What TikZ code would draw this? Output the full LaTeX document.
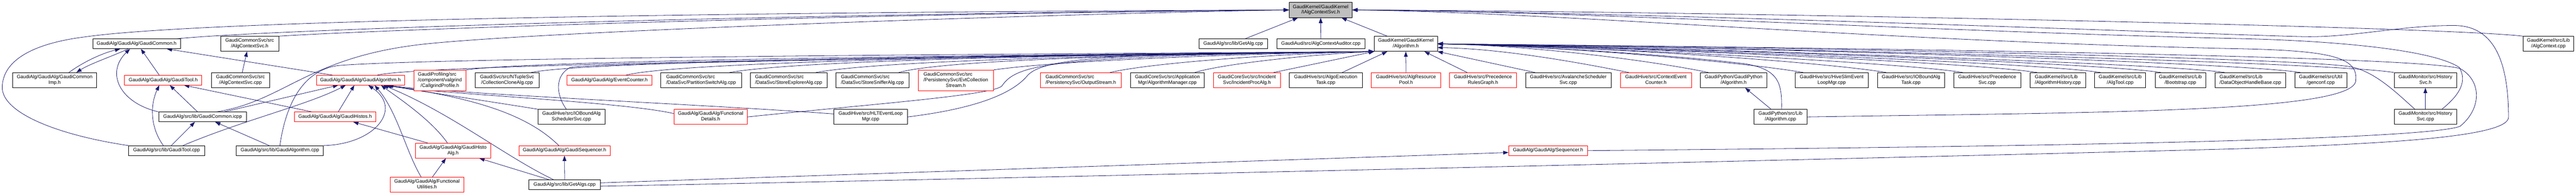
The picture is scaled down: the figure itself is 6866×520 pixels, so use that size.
\documentclass[tikz,border=0pt]{standalone}
\usepackage{fontspec}
\setmainfont{Liberation Sans}
\usetikzlibrary{arrows.meta}
\definecolor{edgeblue}{HTML}{191970}
\definecolor{nodegray}{HTML}{BFBFBF}
\newcommand\nfont{\fontsize{13bp}{15bp}\selectfont}
\newcommand\NLone[1]{\begin{tabular}{@{}c@{}}#1\end{tabular}}
\newcommand\NLtwo[2]{\begin{tabular}{@{}l@{}}#1\\\multicolumn{1}{@{}c@{}}{#2}\end{tabular}}
\newcommand\NLthree[3]{\begin{tabular}{@{}l@{}}#1\\#2\\\multicolumn{1}{@{}c@{}}{#3}\end{tabular}}
\pgfdeclarelayer{back}
\pgfdeclarelayer{edges}
\pgfsetlayers{back,edges,main}
\tikzset{
  wbox/.style={draw=black, fill=white, line width=1bp, inner sep=0pt, font=\nfont, text=black},
  rbox/.style={wbox, draw=red},
  gbox/.style={wbox, fill=nodegray},
  incl/.style={draw=edgeblue, line width=1.1bp, -{Triangle[length=14bp,width=10bp]}},
}
\begin{document}
\begin{tikzpicture}[x=1bp,y=-1bp]
\begin{pgfonlayer}{back}
\fill[white] (0,0) rectangle (6866,520);
\end{pgfonlayer}
\useasboundingbox (0,0) rectangle (6866,520);

% ---- nodes ----
\node[gbox, minimum width=168bp, minimum height=41bp] (G) at (3520,26.5) {\NLtwo{GaudiKernel/GaudiKernel}{/IAlgContextSvc.h}};
\node[wbox, minimum width=234bp, minimum height=26bp] (gcomm) at (364,117) {\NLone{GaudiAlg/GaudiAlg/GaudiCommon.h}};
\node[wbox, minimum width=155bp, minimum height=40bp] (acsh) at (665.5,117) {\NLtwo{GaudiCommonSvc/src}{/AlgContextSvc.h}};
\node[wbox, minimum width=223bp, minimum height=40bp] (gcimp) at (145.5,214) {\NLtwo{GaudiAlg/GaudiAlg/GaudiCommon}{Imp.h}};
\node[rbox, minimum width=206bp, minimum height=26bp] (gtoolh) at (435,214) {\NLone{GaudiAlg/GaudiAlg/GaudiTool.h}};
\node[wbox, minimum width=154bp, minimum height=40bp] (acscpp) at (641,214) {\NLtwo{GaudiCommonSvc/src}{/AlgContextSvc.cpp}};
\node[rbox, minimum width=235bp, minimum height=26bp] (galgh) at (960.5,214) {\NLone{GaudiAlg/GaudiAlg/GaudiAlgorithm.h}};
\node[wbox, minimum width=234bp, minimum height=26bp] (gicpp) at (540,312) {\NLone{GaudiAlg/src/lib/GaudiCommon.icpp}};
\node[rbox, minimum width=218bp, minimum height=26bp] (ghistos) at (893,312) {\NLone{GaudiAlg/GaudiAlg/GaudiHistos.h}};
\node[wbox, minimum width=202bp, minimum height=26bp] (gtoolcpp) at (444,402) {\NLone{GaudiAlg/src/lib/GaudiTool.cpp}};
\node[wbox, minimum width=232bp, minimum height=26bp] (galgcpp) at (746,402) {\NLone{GaudiAlg/src/lib/GaudiAlgorithm.cpp}};
\node[rbox, minimum width=139bp, minimum height=55bp] (callgrind) at (1172.5,214.5) {\NLthree{GaudiProfiling/src}{/component/valgrind}{/CallgrindProfile.h}};
\node[wbox, minimum width=171bp, minimum height=40bp] (collclone) at (1351.5,214) {\NLtwo{GaudiSvc/src/NTupleSvc}{/CollectionCloneAlg.cpp}};
\node[rbox, minimum width=227bp, minimum height=26bp] (evcounter) at (1624.5,214) {\NLone{GaudiAlg/GaudiAlg/EventCounter.h}};
\node[wbox, minimum width=178bp, minimum height=40bp] (ioboundsched) at (1523,312) {\NLtwo{GaudiHive/src/IOBoundAlg}{SchedulerSvc.cpp}};
\node[rbox, minimum width=201bp, minimum height=40bp] (ghistoalg) at (1207.5,402) {\NLtwo{GaudiAlg/GaudiAlg/GaudiHisto}{Alg.h}};
\node[rbox, minimum width=243bp, minimum height=26bp] (gseq) at (1504.5,402) {\NLone{GaudiAlg/GaudiAlg/GaudiSequencer.h}};
\node[rbox, minimum width=196bp, minimum height=40bp] (funcutil) at (1138,493) {\NLtwo{GaudiAlg/GaudiAlg/Functional}{Utilities.h}};
\node[wbox, minimum width=190bp, minimum height=26bp] (getalgs) at (1505,493) {\NLone{GaudiAlg/src/lib/GetAlgs.cpp}};
\node[wbox, minimum width=215bp, minimum height=40bp] (partsw) at (1868.5,214) {\NLtwo{GaudiCommonSvc/src}{/DataSvc/PartitionSwitchAlg.cpp}};
\node[wbox, minimum width=204bp, minimum height=40bp] (storeexp) at (2102,214) {\NLtwo{GaudiCommonSvc/src}{/DataSvc/StoreExplorerAlg.cpp}};
\node[wbox, minimum width=195bp, minimum height=40bp] (storesniff) at (2325.5,214) {\NLtwo{GaudiCommonSvc/src}{/DataSvc/StoreSnifferAlg.cpp}};
\node[rbox, minimum width=201bp, minimum height=55bp] (evtcoll) at (2547.5,214.5) {\NLthree{GaudiCommonSvc/src}{/PersistencySvc/EvtCollection}{Stream.h}};
\node[rbox, minimum width=196bp, minimum height=40bp] (funcdet) at (1894,312) {\NLtwo{GaudiAlg/GaudiAlg/Functional}{Details.h}};
\node[wbox, minimum width=197bp, minimum height=40bp] (hltevt) at (2320.5,312) {\NLtwo{GaudiHive/src/HLTEventLoop}{Mgr.cpp}};
\node[rbox, minimum width=215bp, minimum height=40bp] (outstream) at (2880.5,214) {\NLtwo{GaudiCommonSvc/src}{/PersistencySvc/OutputStream.h}};
\node[wbox, minimum width=197bp, minimum height=40bp] (algmgr) at (3111.5,214) {\NLtwo{GaudiCoreSvc/src/Application}{Mgr/AlgorithmManager.cpp}};
\node[rbox, minimum width=179bp, minimum height=40bp] (incproc) at (3323.5,214) {\NLtwo{GaudiCoreSvc/src/Incident}{Svc/IncidentProcAlg.h}};
\node[wbox, minimum width=182bp, minimum height=26bp] (getalg) at (3287,117) {\NLone{GaudiAlg/src/lib/GetAlg.cpp}};
\node[wbox, minimum width=235bp, minimum height=26bp] (acaud) at (3520.5,117) {\NLone{GaudiAud/src/AlgContextAuditor.cpp}};
\node[wbox, minimum width=168bp, minimum height=40bp] (algh) at (3747,117) {\NLtwo{GaudiKernel/GaudiKernel}{/Algorithm.h}};
\node[wbox, minimum width=195bp, minimum height=40bp] (algoexec) at (3533.5,214) {\NLtwo{GaudiHive/src/AlgoExecution}{Task.cpp}};
\node[rbox, minimum width=185bp, minimum height=40bp] (algres) at (3747.5,214) {\NLtwo{GaudiHive/src/AlgResource}{Pool.h}};
\node[rbox, minimum width=179bp, minimum height=40bp] (precgraph) at (3952.5,214) {\NLtwo{GaudiHive/src/Precedence}{RulesGraph.h}};
\node[wbox, minimum width=228bp, minimum height=40bp] (avalanche) at (4180,214) {\NLtwo{GaudiHive/src/AvalancheScheduler}{Svc.cpp}};
\node[rbox, minimum width=210bp, minimum height=26bp] (seqh) at (4126,402) {\NLone{GaudiAlg/GaudiAlg/Sequencer.h}};
\node[rbox, minimum width=189bp, minimum height=40bp] (ctxevc) at (4413.5,214) {\NLtwo{GaudiHive/src/ContextEvent}{Counter.h}};
\node[wbox, minimum width=177bp, minimum height=40bp] (gpyalgh) at (4620.5,214) {\NLtwo{GaudiPython/GaudiPython}{/Algorithm.h}};
\node[wbox, minimum width=196bp, minimum height=40bp] (hiveslim) at (4882,214) {\NLtwo{GaudiHive/src/HiveSlimEvent}{LoopMgr.cpp}};
\node[wbox, minimum width=179bp, minimum height=40bp] (ioboundtask) at (5093.5,214) {\NLtwo{GaudiHive/src/IOBoundAlg}{Task.cpp}};
\node[wbox, minimum width=141bp, minimum height=40bp] (gpyalgcpp) at (4745.5,312) {\NLtwo{GaudiPython/src/Lib}{/Algorithm.cpp}};
\node[wbox, minimum width=179bp, minimum height=40bp] (precsvc) at (5296.5,214) {\NLtwo{GaudiHive/src/Precedence}{Svc.cpp}};
\node[wbox, minimum width=148bp, minimum height=40bp] (alghist) at (5485,214) {\NLtwo{GaudiKernel/src/Lib}{/AlgorithmHistory.cpp}};
\node[wbox, minimum width=136bp, minimum height=40bp] (algtool) at (5651,214) {\NLtwo{GaudiKernel/src/Lib}{/AlgTool.cpp}};
\node[wbox, minimum width=135bp, minimum height=40bp] (bootstrap) at (5811.5,214) {\NLtwo{GaudiKernel/src/Lib}{/Bootstrap.cpp}};
\node[wbox, minimum width=188bp, minimum height=40bp] (dohb) at (5998,214) {\NLtwo{GaudiKernel/src/Lib}{/DataObjectHandleBase.cpp}};
\node[wbox, minimum width=139bp, minimum height=40bp] (genconf) at (6185.5,214) {\NLtwo{GaudiKernel/src/Util}{/genconf.cpp}};
\node[wbox, minimum width=167bp, minimum height=40bp] (histsvch) at (6464.5,214) {\NLtwo{GaudiMonitor/src/History}{Svc.h}};
\node[wbox, minimum width=167bp, minimum height=40bp] (histsvccpp) at (6464.5,312) {\NLtwo{GaudiMonitor/src/History}{Svc.cpp}};
\node[wbox, minimum width=135bp, minimum height=40bp] (algctx) at (6792.5,117) {\NLtwo{GaudiKernel/src/Lib}{/AlgContext.cpp}};

% ---- edges ----
\begin{pgfonlayer}{edges}
% into GaudiCommon.h
\draw[incl] ([xshift=150bp]gcimp.north west) .. controls (230,160) and (280,140) .. ([xshift=74bp]gcomm.south west);
\draw[incl] ([xshift=95bp]gcomm.south west) .. controls (300,150) and (240,170) .. ([xshift=170bp]gcimp.north west);
\draw[incl] (gicpp.north west) .. controls (320,275) and (280,195) .. ([xshift=100bp]gcomm.south west);
\draw[incl] ([xshift=93bp]gtoolh.north west) -- ([xshift=129bp]gcomm.south west);
\draw[incl] ([xshift=44bp]galgh.north west) -- ([xshift=198bp]gcomm.south west);
\draw[incl] ([xshift=82bp]acscpp.north west) -- ([xshift=71bp]acsh.south west);
% into GaudiTool.h
\draw[incl] ([xshift=93bp]gtoolcpp.north west) .. controls (400,340) and (400,280) .. ([xshift=93bp]gtoolh.south west);
\draw[incl] ([xshift=104bp]gicpp.north west) -- ([xshift=121bp]gtoolh.south west);
\draw[incl] ([xshift=48bp]ghistos.north west) -- ([xshift=159bp]gtoolh.south west);
% into GaudiCommon.icpp
\draw[incl] ([xshift=114bp]gtoolcpp.north west) -- ([xshift=97bp]gicpp.south west);
\draw[incl] ([xshift=88bp]galgcpp.north west) -- ([xshift=151bp]gicpp.south west);
% into IAlgContextSvc.h from the left
\draw[incl] (gtoolcpp.north west) .. controls (150,360) and (5,300) .. (6,233) .. controls (7,160) and (90,115) .. (230,98) .. controls (500,60) and (1600,34) .. (G.west);
\draw[incl] ([xshift=-11bp]gcomm.north east) .. controls (700,80) and (2000,38) .. (G.west);
\draw[incl] (acsh.north east) .. controls (1000,80) and (2200,38) .. (G.west);
\draw[incl] ([xshift=37bp]gicpp.north) .. controls (760,270) and (820,150) .. (1137,117) .. controls (1500,80) and (2900,35) .. (G.west);
% into GaudiAlgorithm.h
\draw[incl] ([xshift=57bp]gicpp.north) -- ([xshift=59bp]galgh.south west);
\draw[incl] ([xshift=145bp]gtoolcpp.north west) .. controls (650,320) and (820,280) .. ([xshift=79bp]galgh.south west);
\draw[incl] (galgcpp.north east) .. controls (1000,385) and (1075,290) .. ([xshift=139bp]galgh.south west);
\draw[incl] ([xshift=118bp]ghistos.north west) -- ([xshift=102bp]galgh.south west);
\draw[incl] ([xshift=83bp]funcutil.north west) .. controls (1080,400) and (1060,300) .. ([xshift=156bp]galgh.south west);
\draw[incl] ([xshift=86bp]ghistoalg.north west) .. controls (1150,320) and (1060,260) .. ([xshift=173bp]galgh.south west);
\draw[incl] ([xshift=66bp]getalgs.north west) .. controls (1350,420) and (1200,300) .. ([xshift=179bp]galgh.south west);
\draw[incl] ([xshift=107bp]gseq.north west) .. controls (1400,300) and (1250,260) .. ([xshift=185bp]galgh.south west);
\draw[incl] (ioboundsched.north west) .. controls (1300,270) and (1100,240) .. ([xshift=187bp]galgh.south west);
\draw[incl] ([yshift=9bp]funcdet.west) .. controls (1650,270) and (1150,250) .. ([xshift=190bp]galgh.south west);
\draw[incl] ([yshift=8bp]hltevt.west) .. controls (1900,280) and (1200,250) .. ([xshift=192bp]galgh.south west);
% into GaudiHistos.h, GaudiHistoAlg.h, GaudiSequencer.h, Sequencer.h
\draw[incl] ([xshift=33bp]ghistoalg.north west) -- ([xshift=158bp]ghistos.south west);
\draw[incl] ([xshift=113bp]funcutil.north west) -- ([xshift=82bp]ghistoalg.south west);
\draw[incl] ([xshift=54bp]getalgs.north west) -- ([xshift=171bp]ghistoalg.south west);
\draw[incl] (getalgs.north) -- (gseq.south);
\draw[incl] ([yshift=5bp]getalgs.east) -- ([yshift=-5bp]seqh.west);
% long loops on the right
\draw[incl] ([yshift=-4bp]getalgs.east) .. controls (3000,470) and (5500,410) .. (5966,397) .. controls (6300,385) and (6686,370) .. (6686,313) .. controls (6686,150) and (6640,68) .. (6540,68) .. controls (6400,68) and (6280,98) .. (6155,98) .. controls (6050,98) and (4500,35) .. (G.east);
\draw[incl] (seqh.east) .. controls (5000,395) and (6450,380) .. (6557,337) .. controls (6615,290) and (6615,215) .. (6557,183) .. controls (6450,150) and (5000,128) .. (algh.east);
\draw[incl] (gpyalgcpp.east) .. controls (5600,300) and (6285,300) .. (6279,213) .. controls (6285,150) and (6200,135) .. (5966,130) .. controls (5000,110) and (4200,35) .. (G.east);
\draw[incl] ([xshift=-40bp]histsvccpp.north east) .. controls (6560,250) and (6575,215) .. (6555,180) .. controls (6480,130) and (6200,108) .. (5966,103) .. controls (5200,85) and (4200,30) .. (G.east);
\draw[incl] ([xshift=56bp]histsvccpp.north west) .. controls (6390,250) and (6330,190) .. (6264,178) .. controls (6150,158) and (5000,128) .. (algh.east);
\draw[incl] (histsvccpp.north) -- (histsvch.south);
\draw[incl] (histsvch.north west) .. controls (6250,170) and (5000,132) .. (algh.east);
\draw[incl] ([xshift=16bp]genconf.north west) .. controls (6000,172) and (5000,132) .. (algh.east);
\draw[incl] (algctx.north west) .. controls (6500,70) and (4500,30) .. (G.east);
% into Algorithm.h from the right
\draw[incl] ([xshift=26bp]dohb.north west) .. controls (5760,168) and (4500,128) .. (algh.east);
\draw[incl] ([xshift=16bp]bootstrap.north west) .. controls (5600,168) and (4500,128) .. (algh.east);
\draw[incl] ([xshift=16bp]algtool.north west) .. controls (5440,168) and (4400,128) .. (algh.east);
\draw[incl] ([xshift=19bp]alghist.north west) .. controls (5270,168) and (4400,128) .. (algh.east);
\draw[incl] ([xshift=25bp]precsvc.north west) .. controls (5080,168) and (4300,128) .. (algh.east);
\draw[incl] ([xshift=24bp]ioboundtask.north west) .. controls (4880,168) and (4300,125) .. (algh.east);
\draw[incl] ([xshift=23bp]hiveslim.north west) .. controls (4660,168) and (4200,125) .. (algh.east);
\draw[incl] ([xshift=22bp]gpyalgh.north west) .. controls (4420,165) and (4100,122) .. (algh.east);
\draw[incl] ([xshift=23bp]ctxevc.north west) .. controls (4200,165) and (4000,130) .. ([yshift=-10bp]algh.east);
\draw[incl] ([xshift=26bp]avalanche.north west) -- (algh.south east);
\draw[incl] ([xshift=74bp]gpyalgcpp.north west) .. controls (4750,220) and (4740,185) .. (4650,170) .. controls (4400,140) and (4000,120) .. (algh.east);
\draw[incl] ([xshift=46bp]gpyalgcpp.north west) -- ([xshift=120bp]gpyalgh.south west);
% into Algorithm.h from below
\draw[incl] ([xshift=142bp]algoexec.north west) -- ([xshift=35bp]algh.south west);
\draw[incl] (algres.north) -- (algh.south);
\draw[incl] ([xshift=48bp]precgraph.north west) -- ([xshift=-35bp]algh.south east);
% into IAlgContextSvc.h from below
\draw[incl] ([xshift=35bp]algh.north west) -- ([xshift=-29bp]G.south east);
\draw[incl] (acaud.north) -- (G.south);
\draw[incl] ([xshift=123bp]getalg.north west) -- ([xshift=24bp]G.south west);
% into Algorithm.h from the left
\draw[incl] ([xshift=-19bp]incproc.north east) -- (algh.south west);
\draw[incl] ([xshift=-26bp]algmgr.north east) .. controls (3260,170) and (3500,145) .. (algh.south west);
\draw[incl] ([xshift=-30bp]outstream.north east) .. controls (3080,165) and (3450,142) .. (algh.south west);
\draw[incl] (evtcoll.north east) .. controls (2850,158) and (3400,142) .. (algh.south west);
\draw[incl] ([xshift=-28bp]storesniff.north east) .. controls (2550,150) and (3400,142) .. (algh.south west);
\draw[incl] ([xshift=-30bp]storeexp.north east) .. controls (2400,152) and (3400,142) .. (algh.south west);
\draw[incl] ([xshift=-32bp]partsw.north east) .. controls (2190,150) and (3400,142) .. (algh.south west);
\draw[incl] ([xshift=-70bp]evcounter.north east) .. controls (1850,155) and (3300,142) .. (algh.south west);
\draw[incl] ([xshift=-22bp]collclone.north east) .. controls (1600,155) and (3300,142) .. (algh.south west);
\draw[incl] (callgrind.north east) .. controls (1450,155) and (3300,142) .. (algh.south west);
\draw[incl] ([xshift=-73bp]galgh.north east) .. controls (1150,165) and (3300,142) .. (algh.south west);
\draw[incl] ([xshift=76bp]ioboundsched.north west) .. controls (1480,250) and (1480,200) .. (1520,180) .. controls (1600,165) and (3200,145) .. (algh.south west);
\draw[incl] (galgcpp.north) .. controls (760,290) and (800,190) .. (900,175) .. controls (1200,150) and (3200,142) .. (algh.south west);
\draw[incl] (funcdet.east) .. controls (2300,280) and (2640,255) .. (2670,230) .. controls (2710,170) and (2800,150) .. (algh.south west);
\draw[incl] (hltevt.east) .. controls (2600,290) and (2700,250) .. (2740,200) .. controls (2790,150) and (3000,145) .. (algh.south west);
\end{pgfonlayer}
\end{tikzpicture}
\end{document}
